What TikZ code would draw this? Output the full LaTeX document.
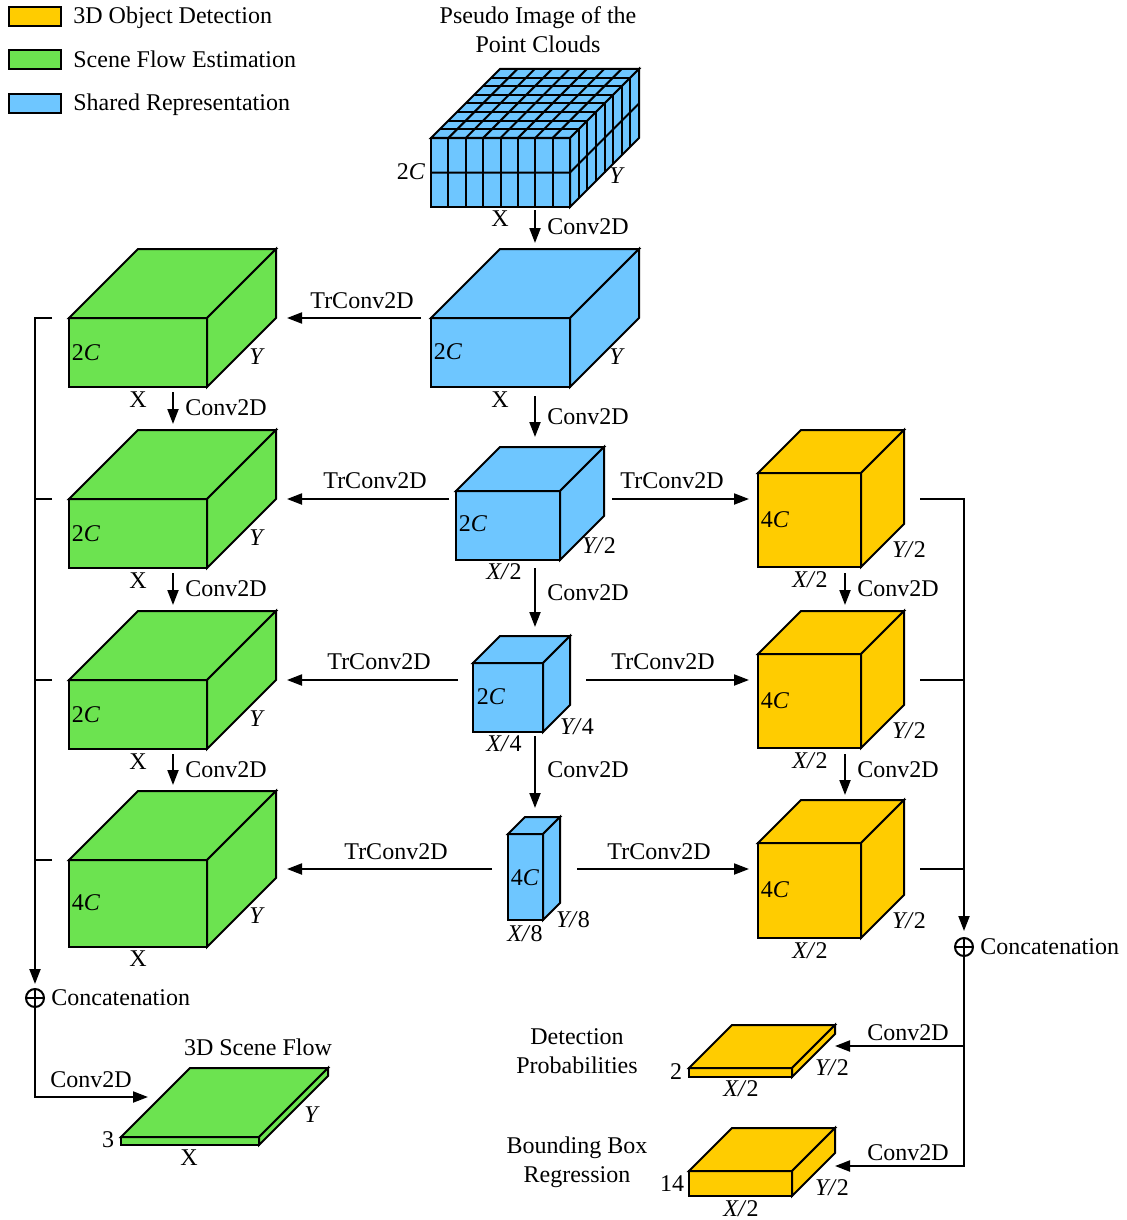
\documentclass[tikz,border=0pt]{standalone}
\usepackage{fontspec}
\setmainfont{Liberation Serif}
\usetikzlibrary{arrows.meta,calc}

\definecolor{shared}{RGB}{110,198,255}
\definecolor{flow}{RGB}{108,227,80}
\definecolor{detect}{RGB}{255,204,0}

\tikzset{
  face/.style={draw, line width=1pt, inner sep=0pt, outer sep=0pt},
  facet/.style={line width=1pt},
  hull/.style={inner sep=0pt, outer sep=0pt},
  lbl/.style={font=\fontsize{12}{14.5}\selectfont, inner sep=0pt},
  arr/.style={line width=1pt, -{Triangle[length=7.5pt,width=5.5pt]}},
  wire/.style={line width=1pt},
  swatch/.style={draw, line width=1pt},
  oplus/.style={circle, draw, line width=1pt, minimum size=9pt, inner sep=0pt,
    path picture={\draw[line width=1pt]
      (path picture bounding box.north) -- (path picture bounding box.south)
      (path picture bounding box.west) -- (path picture bounding box.east);}},
}

% cuboid: name, left, top of front face, width, height, depth, colour
\newcommand\cuboid[7]{%
  \node[face, fill=#7, minimum width={#4*0.5pt}, minimum height={#5*0.5pt},
        anchor=north west] (#1) at (#2,#3) {};
  \draw[facet, fill=#7] (#1.north west) -- ++(#6,-#6) -- ++(#4,0) -- (#1.north east) -- cycle;
  \draw[facet, fill=#7] (#1.north east) -- ++(#6,-#6) -- ++(0,#5) -- (#1.south east) -- cycle;
  \node[hull, minimum width={(#4+#6)*0.5pt}, minimum height={(#5+#6)*0.5pt},
        anchor=south west] (#1-box) at (#1.south west) {};
}

\begin{document}
\begin{tikzpicture}[x=0.5pt, y=-0.5pt]
\useasboundingbox (0,0) rectangle (1126,1220);

% legend
\draw[swatch, fill=detect] (9,7) rectangle (61,26);
\draw[swatch, fill=flow] (9,50) rectangle (61,69);
\draw[swatch, fill=shared] (9,94) rectangle (61,113);
\node[lbl, anchor=base west] (leg1) at (73,24) {3D Object Detection};
\node[lbl, anchor=base west] (leg2) at (73,68) {Scene Flow Estimation};
\node[lbl, anchor=base west] (leg3) at (73,111) {Shared Representation};

% pseudo image with its grid
\node[lbl, align=center] (ptitle) at (538,30) {Pseudo Image of the\\Point Clouds};
\cuboid{p}{431}{138}{139}{69}{69}{shared}
\foreach \i in {1,...,7} {
  \draw[facet] (431+\i*139/8,138) -- ++(0,69);
  \draw[facet] (431+\i*139/8,138) -- ++(69,-69);
  \draw[facet] (431+\i*69/8,138-\i*69/8) -- ++(139,0);
  \draw[facet] (570+\i*69/8,138-\i*69/8) -- ++(0,69);
}
\draw[facet] (431,172.5) -- (570,172.5) -- ++(69,-69);

% shared column
\cuboid{b1}{431}{318}{139}{69}{69}{shared}
\cuboid{b2}{456}{491}{104}{69}{44}{shared}
\cuboid{b3}{473}{663}{70}{69}{27}{shared}
\cuboid{b4}{508}{834}{35}{86}{17}{shared}

% scene flow column
\cuboid{g1}{69}{318}{138}{69}{69}{flow}
\cuboid{g2}{69}{499}{138}{69}{69}{flow}
\cuboid{g3}{69}{680}{138}{69}{69}{flow}
\cuboid{g4}{69}{860}{138}{87}{69}{flow}

% detection column
\cuboid{y1}{758}{473}{103}{94}{43}{detect}
\cuboid{y2}{758}{654}{103}{94}{43}{detect}
\cuboid{y3}{758}{843}{103}{95}{43}{detect}

% outputs
\cuboid{sf}{121}{1137}{138}{8}{69}{flow}
\cuboid{dp}{689}{1068}{103}{9}{43}{detect}
\cuboid{bb}{689}{1171}{103}{25}{43}{detect}

% dimension labels
\node[lbl] at (411,172) {2\textit{C}};
\node[lbl] at (617,176) {\textit{Y}};
\node[lbl] at (500,219) {X};

\node[lbl] at (448,352) {2\textit{C}};
\node[lbl] at (617,357) {\textit{Y}};
\node[lbl] at (500,400) {X};
\node[lbl] at (473,524) {2\textit{C}};
\node[lbl] at (599,546) {\textit{Y/}2};
\node[lbl] at (504,572) {\textit{X/}2};
\node[lbl] at (491,697) {2\textit{C}};
\node[lbl] at (577,727) {\textit{Y/}4};
\node[lbl] at (504,744) {\textit{X/}4};
\node[lbl] at (525,878) {4\textit{C}};
\node[lbl] at (573,920) {\textit{Y/}8};
\node[lbl] at (525,934) {\textit{X/}8};

\foreach \r in {0,181,362} {
  \node[lbl] at (86,353+\r) {2\textit{C}};
  \node[lbl] at (257,357+\r) {\textit{Y}};
  \node[lbl] at (138,400+\r) {X};
}
\node[lbl] at (86,903) {4\textit{C}};
\node[lbl] at (257,916) {\textit{Y}};
\node[lbl] at (138,959) {X};

\foreach \r/\s in {0/0,181/181,370/371} {
  \node[lbl] at (775,520+\r) {4\textit{C}};
  \node[lbl] at (909,550+\s) {\textit{Y/}2};
  \node[lbl] at (810,580+\s) {\textit{X/}2};
}

\node[lbl] at (258,1047) {3D Scene Flow};
\node[lbl] at (108,1140) {3};
\node[lbl] at (189,1158) {X};
\node[lbl] at (312,1115) {\textit{Y}};

\node[lbl, align=center] (dptxt) at (577,1051) {Detection\\Probabilities};
\node[lbl] at (676,1072) {2};
\node[lbl] at (741,1089) {\textit{X/}2};
\node[lbl] at (832,1068) {\textit{Y/}2};

\node[lbl, align=center] (bbtxt) at (577,1162) {Bounding Box\\Regression};
\node[lbl] at (672,1184) {14};
\node[lbl] at (741,1209) {\textit{X/}2};
\node[lbl] at (832,1188) {\textit{Y/}2};

% guide coordinates for the connector lanes
\coordinate (colS) at (535,0);
\coordinate (colF) at (173,0);
\coordinate (colD) at (845,0);
\coordinate (row1) at (0,318);
\coordinate (row2) at (0,499);
\coordinate (row3) at (0,680);
\coordinate (row4) at (0,869);
\coordinate (dprow) at (0,1046);
\coordinate (bbrow) at (0,1166);
\coordinate (sfin) at (148,1097);

% shared column convolutions
\draw[arr, shorten <=1.5pt, shorten >=3pt] (p-box.south -| colS) -- (b1-box.north -| colS);
\draw[arr, shorten <=4.5pt, shorten >=5pt] (b1-box.south -| colS) -- (b2-box.north -| colS);
\draw[arr, shorten <=4pt, shorten >=4.5pt] (b2-box.south -| colS) -- (b3-box.north -| colS);
\draw[arr, shorten <=2pt, shorten >=4.5pt] (b3-box.south -| colS) -- (b4-box.north -| colS);
\foreach \yy in {227,417,593,770}
  \node[lbl, anchor=west] at (547,\yy) {Conv2D};

% scene flow column convolutions
\draw[arr, shorten <=2.5pt, shorten >=3pt] (g1-box.south -| colF) -- (g2-box.north -| colF);
\draw[arr, shorten <=2.5pt, shorten >=3pt] (g2-box.south -| colF) -- (g3-box.north -| colF);
\draw[arr, shorten <=2.5pt, shorten >=3pt] (g3-box.south -| colF) -- (g4-box.north -| colF);
\foreach \yy in {408,589,770}
  \node[lbl, anchor=west] at (185,\yy) {Conv2D};

% detection column convolutions
\draw[arr, shorten <=3pt, shorten >=3pt] (y1-box.south -| colD) -- (y2-box.north -| colD);
\draw[arr, shorten <=3pt, shorten >=2.5pt] (y2-box.south -| colD) -- (y3-box.north -| colD);
\foreach \yy in {589,770}
  \node[lbl, anchor=west] at (857,\yy) {Conv2D};

% transposed convolutions to the left
\draw[arr, shorten <=5pt, shorten >=5.5pt] (b1.west |- row1) -- (g1-box.east |- row1);
\draw[arr, shorten <=3.5pt, shorten >=5.5pt] (b2.west |- row2) -- (g2-box.east |- row2);
\draw[arr, shorten <=7.5pt, shorten >=5.5pt] (b3.west |- row3) -- (g3-box.east |- row3);
\draw[arr, shorten <=8pt, shorten >=5.5pt] (b4.west |- row4) -- (g4-box.east |- row4);
\node[lbl] at (362,301) {TrConv2D};
\node[lbl] at (375,481) {TrConv2D};
\node[lbl] at (379,662) {TrConv2D};
\node[lbl] at (396,852) {TrConv2D};

% transposed convolutions to the right
\draw[arr, shorten <=4pt, shorten >=4.5pt] (b2-box.east |- row2) -- (y1.west |- row2);
\draw[arr, shorten <=8pt, shorten >=4.5pt] (b3-box.east |- row3) -- (y2.west |- row3);
\draw[arr, shorten <=8.5pt, shorten >=4.5pt] (b4-box.east |- row4) -- (y3.west |- row4);
\node[lbl] at (672,481) {TrConv2D};
\node[lbl] at (663,662) {TrConv2D};
\node[lbl] at (659,852) {TrConv2D};

% detection concatenation and heads
\node[oplus] (rc) at (964,947) {};
\node[lbl, anchor=west] at (980,947) {Concatenation};
\draw[arr, shorten <=8pt, shorten >=3pt] (y1-box.east |- row2) -- (rc |- row2) -- (rc.north);
\draw[wire, shorten <=8pt] (y2-box.east |- row3) -- (rc |- row3);
\draw[wire, shorten <=8pt] (y3-box.east |- row4) -- (rc |- row4);
\draw[arr] (rc.south) -- (rc |- bbrow) -- (bb-box.east |- bbrow);
\draw[arr] (rc |- dprow) -- (dp-box.east |- dprow);
\node[lbl] at (908,1033) {Conv2D};
\node[lbl] at (908,1153) {Conv2D};

% scene flow concatenation and head
\node[oplus] (lc) at (35,998) {};
\node[lbl, anchor=west] at (51,998) {Concatenation};
\draw[arr, shorten <=8.5pt, shorten >=2pt] (g1.north west) -- (lc |- g1.north west) -- (lc.north);
\draw[wire, shorten <=8.5pt] (g2.north west) -- (lc |- g2.north west);
\draw[wire, shorten <=8.5pt] (g3.north west) -- (lc |- g3.north west);
\draw[wire, shorten <=8.5pt] (g4.north west) -- (lc |- g4.north west);
\draw[arr] (lc.south) -- (lc |- sfin) -- (sfin);
\node[lbl] at (91,1080) {Conv2D};

\end{tikzpicture}
\end{document}
